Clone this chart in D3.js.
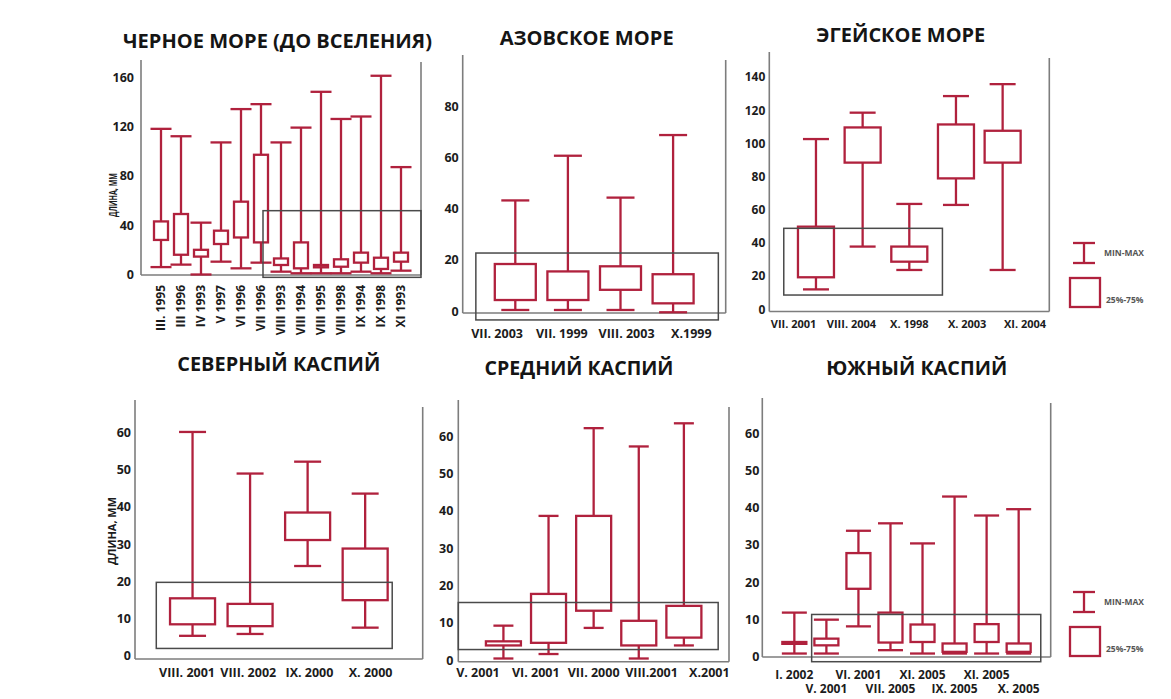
<!DOCTYPE html>
<html><head><meta charset="utf-8">
<script src="https://cdn.jsdelivr.net/npm/d3@7"></script>
<style>
body{margin:0;background:#fff}
text{font-family:"Open Sans",sans-serif;font-weight:700;fill:#1c1c1c}
</style>
</head><body>
<svg id="c" width="1171" height="699"></svg>
<script>
// ---------- DATA ----------
const titles = ["ЧЕРНОЕ МОРЕ (ДО ВСЕЛЕНИЯ)","АЗОВСКОЕ МОРЕ","ЭГЕЙСКОЕ МОРЕ","СЕВЕРНЫЙ КАСПИЙ","СРЕДНИЙ КАСПИЙ","ЮЖНЫЙ КАСПИЙ"];
const yAxisTitle = "ДЛИНА, ММ";
const legendLabels = ["MIN-MAX","25%-75%"];

const blackCats = ["III. 1995","III 1996","IV 1993","V 1997","VI 1996","VII 1996","VIII 1993","VIII 1994","VIII 1995","VIII 1998","IX 1994","IX 1998","XI 1993"];
const blackMax = [118,112,42,107,134,138,107,119,148,126,128,161,87];
const blackQ3  = [43,49,20,35.5,59,97,13,26,7.7,12.3,17.7,13.6,17.7];
const blackQ1  = [28,16,14.5,24.7,30,26,7.7,5,5.8,6.3,9.6,4.5,10.4];
const blackMin = [6,8,0,10.4,5,9.6,2.3,1,1,1,2.3,1,3.1];
const blackTicks = [0,40,80,120,160];

const azovCats = ["VII. 2003","VII. 1999","VIII. 2003","X.1999"];
const azovMax = [43.3,60.8,44.4,68.9];
const azovQ3  = [18.4,15.5,17.5,14.4];
const azovQ1  = [4.3,4.3,8.3,3];
const azovMin = [0.4,0.4,0.4,-0.5];
const azovTicks = [0,20,40,60,80];

const aegeanCats = ["VII. 2001","VIII. 2004","X. 1998","X. 2003","XI. 2004"];
const aegeanMax = [102.6,118.5,63.5,128.5,135.7];
const aegeanQ3  = [49.8,109.6,37.8,111.4,107.6];
const aegeanQ1  = [19.3,88.4,28.7,78.9,88.4];
const aegeanMin = [12,37.8,23.7,62.9,23.7];
const aegeanTicks = [0,20,40,60,80,100,120,140];

const northCats = ["VIII. 2001","VIII. 2002","IX. 2000","X. 2000"];
const northMax = [60.2,49,52.2,43.6];
const northQ3  = [15.4,13.9,38.5,28.8];
const northQ1  = [8.4,7.9,31.1,14.9];
const northMin = [5.3,5.8,24.1,7.5];

const midCats = ["V. 2001","VI. 2001","VII. 2000","VIII.2001","X.2001"];
const midMax = [9.2,38.6,62.1,57.2,63.4];
const midQ3  = [5,17.7,38.6,10.5,14.5];
const midQ1  = [3.9,4.6,13.2,3.9,6];
const midMin = [0.4,1.6,8.6,0.4,3.9];

const southCats = ["I. 2002","V. 2001","VI. 2001","VII. 2005","XI. 2005","IX. 2005","XI. 2005","X. 2005"];
const southMax = [11.8,9.9,33.8,35.8,30.4,43,37.9,39.6];
const southQ3  = [3.9,4.8,27.8,11.8,8.6,3.5,8.7,3.5];
const southQ1  = [3.4,3,18.2,3.75,3.9,1.25,3.9,1.25];
const southMin = [0.8,0.8,8.1,1.7,0.8,0.8,0.8,0.8];
const caspTicks = [0,10,20,30,40,50,60];

// highlighted (grey) ranges: category-index units and value units
const hlFrom = [5.1,-0.75,-0.69,-0.63,-1.0,0.54];
const hlTo   = [13,3.86,2.71,3.47,4.76,7.69];
const hlLow  = [-2.3,-3.5,8.6,1.9,2.8,-1.4];
const hlHigh = [51.7,22.7,48.8,19.7,15.4,11.3];

// ---------- LAYOUT / STYLE ----------
const RED = "#b0213d", AX = "#7d7d7d", HL = "#4a4a4a";
const layout = [
 {left:141,right:421,y0:274.5,yT:77,axisTop:60,frameTop:62,bottom:275,box:14,cap:21,pad:1,labPad:1,rot:true,labY:285,labFs:12,tickFs:12.5,tickGap:7,
  title:{x:277.5,y:48,w:309}, ylab:{x:117,y:195,w:44,fs:10}},
 {left:462.7,right:725.7,y0:311,yT:106.7,axisTop:55,frameTop:60,bottom:313,box:41,cap:28,pad:1,labPad:0.53,labY:338,labFs:12.5,tickFs:12.5,tickGap:4,
  title:{x:586.7,y:45,w:174}},
 {left:769.3,right:1049.3,y0:309.3,yT:77,axisTop:52,frameTop:58,bottom:311.5,box:36,cap:26,pad:1,labPad:0.42,labY:328,labFs:11,tickFs:12,tickGap:4,
  title:{x:900.8,y:42,w:169}},
 {left:135,right:422.7,y0:655.5,yT:432.7,axisTop:400,frameTop:407,bottom:659,box:45,cap:27,pad:1,labPad:0.85,labY:677,labFs:12.5,tickFs:12.5,tickGap:4,
  title:{x:278.8,y:371,w:203}, ylab:{x:116,y:531,w:68,fs:11}},
 {left:458.3,right:729,y0:660,yT:436,axisTop:400,frameTop:407,bottom:661.7,box:35,cap:20,pad:1,labPad:0.34,labY:677,labFs:12.5,tickFs:12.5,tickGap:5,
  title:{x:579,y:375,w:189}},
 {left:762.3,right:1050.7,y0:656.5,yT:433.3,axisTop:398,frameTop:403,bottom:657,box:24,cap:25,pad:1,labPad:1,twoRows:true,labY:679,labY2:693,labFs:12,tickFs:12.5,tickGap:3,
  title:{x:916.7,y:375,w:181}}
];

const panels = [
 {cats:blackCats,min:blackMin,q1:blackQ1,q3:blackQ3,max:blackMax,ticks:blackTicks},
 {cats:azovCats,min:azovMin,q1:azovQ1,q3:azovQ3,max:azovMax,ticks:azovTicks},
 {cats:aegeanCats,min:aegeanMin,q1:aegeanQ1,q3:aegeanQ3,max:aegeanMax,ticks:aegeanTicks},
 {cats:northCats,min:northMin,q1:northQ1,q3:northQ3,max:northMax,ticks:caspTicks},
 {cats:midCats,min:midMin,q1:midQ1,q3:midQ3,max:midMax,ticks:caspTicks},
 {cats:southCats,min:southMin,q1:southQ1,q3:southQ3,max:southMax,ticks:caspTicks}
];

const svg = d3.select("#c");

panels.forEach((p, k) => {
  const L = layout[k];
  const g = svg.append("g");
  const n = p.cats.length;
  const idx = d3.range(n);
  const x = d3.scalePoint().domain(idx).range([L.left, L.right]).padding(L.pad);
  const step = x.step();
  const xf = v => x(0) + v * step;
  const tMax = p.ticks[p.ticks.length - 1];
  const y = d3.scaleLinear().domain([0, tMax]).range([L.y0, L.yT]);

  // axes frame
  g.append("line").attr("x1", L.left).attr("x2", L.left).attr("y1", L.axisTop).attr("y2", L.bottom)
    .attr("stroke", AX).attr("stroke-width", 1.6);
  g.append("line").attr("x1", L.left).attr("x2", L.right).attr("y1", L.bottom).attr("y2", L.bottom)
    .attr("stroke", AX).attr("stroke-width", 1.6);
  g.append("line").attr("x1", L.right).attr("x2", L.right).attr("y1", L.frameTop).attr("y2", L.bottom)
    .attr("stroke", AX).attr("stroke-width", 1.6);

  // y tick labels via d3 axis
  const yAxis = d3.axisLeft(y).tickValues(p.ticks).tickSize(0).tickPadding(L.tickGap).tickFormat(d3.format("d"));
  const ag = g.append("g").attr("transform", `translate(${L.left},0)`).call(yAxis);
  ag.select(".domain").remove();
  ag.selectAll("text").attr("font-size", L.tickFs).attr("font-family", "Open Sans").attr("font-weight", 700).attr("fill", "#1c1c1c");

  // whiskers
  const bx = g.selectAll(".bx").data(idx).enter().append("g");
  bx.append("line").attr("x1", i => x(i)).attr("x2", i => x(i))
    .attr("y1", i => y(p.min[i])).attr("y2", i => y(p.max[i]))
    .attr("stroke", RED).attr("stroke-width", 2.3);
  bx.append("line").attr("x1", i => x(i) - L.cap/2).attr("x2", i => x(i) + L.cap/2)
    .attr("y1", i => y(p.max[i])).attr("y2", i => y(p.max[i]))
    .attr("stroke", RED).attr("stroke-width", 2.3);
  bx.append("line").attr("x1", i => x(i) - L.cap/2).attr("x2", i => x(i) + L.cap/2)
    .attr("y1", i => y(p.min[i])).attr("y2", i => y(p.min[i]))
    .attr("stroke", RED).attr("stroke-width", 2.3);
  bx.append("rect").attr("x", i => x(i) - L.box/2).attr("width", L.box)
    .attr("y", i => y(p.q3[i])).attr("height", i => Math.max(0.5, y(p.q1[i]) - y(p.q3[i])))
    .attr("fill", "#fff").attr("stroke", RED).attr("stroke-width", 2.3);

  // highlight rectangle
  g.append("rect").attr("x", xf(hlFrom[k])).attr("width", xf(hlTo[k]) - xf(hlFrom[k]))
    .attr("y", y(hlHigh[k])).attr("height", y(hlLow[k]) - y(hlHigh[k]))
    .attr("fill", "none").attr("stroke", HL).attr("stroke-width", 1.5);

  // x labels
  if (L.rot) {
    g.selectAll(".xl").data(idx).enter().append("text")
      .attr("transform", i => `translate(${x(i)},${L.labY}) rotate(-90)`)
      .attr("text-anchor", "end").attr("dy", "0.36em")
      .attr("font-size", L.labFs).text(i => p.cats[i]);
  } else {
    const xl = d3.scalePoint().domain(idx).range([L.left, L.right]).padding(L.labPad);
    g.selectAll(".xl").data(idx).enter().append("text")
      .attr("x", i => L.twoRows ? x(i) : xl(i))
      .attr("y", i => (L.twoRows && i % 2 === 1) ? L.labY2 : L.labY)
      .attr("text-anchor", "middle").attr("font-size", L.labFs).text(i => p.cats[i]);
  }

  // title
  g.append("text").attr("x", L.title.x).attr("y", L.title.y).attr("text-anchor", "middle")
    .attr("font-size", 19).attr("textLength", L.title.w).attr("lengthAdjust", "spacingAndGlyphs")
    .style("fill", "#151515").text(titles[k]);

  if (L.ylab) {
    g.append("text").attr("transform", `translate(${L.ylab.x},${L.ylab.y}) rotate(-90)`)
      .attr("text-anchor", "middle").attr("font-size", L.ylab.fs)
      .attr("textLength", L.ylab.w).attr("lengthAdjust", "spacingAndGlyphs").text(yAxisTitle);
  }
});

// legends
function legend(cx, top) {
  const g = svg.append("g");
  g.append("line").attr("x1", cx).attr("x2", cx).attr("y1", top).attr("y2", top + 20).attr("stroke", RED).attr("stroke-width", 2.3);
  g.append("line").attr("x1", cx - 11).attr("x2", cx + 11).attr("y1", top).attr("y2", top).attr("stroke", RED).attr("stroke-width", 2.3);
  g.append("line").attr("x1", cx - 11).attr("x2", cx + 11).attr("y1", top + 20).attr("y2", top + 20).attr("stroke", RED).attr("stroke-width", 2.3);
  g.append("text").attr("x", cx + 20).attr("y", top + 10).attr("dy", "0.35em").attr("font-size", 8.5).style("fill", "#555").text(legendLabels[0]);
  g.append("rect").attr("x", cx - 14).attr("y", top + 35).attr("width", 30).attr("height", 29)
    .attr("fill", "none").attr("stroke", RED).attr("stroke-width", 2.3);
  g.append("text").attr("x", cx + 22).attr("y", top + 57).attr("dy", "0.35em").attr("font-size", 8.5).style("fill", "#555").text(legendLabels[1]);
}
legend(1084, 243);
legend(1084, 592);
</script>
</body></html>
